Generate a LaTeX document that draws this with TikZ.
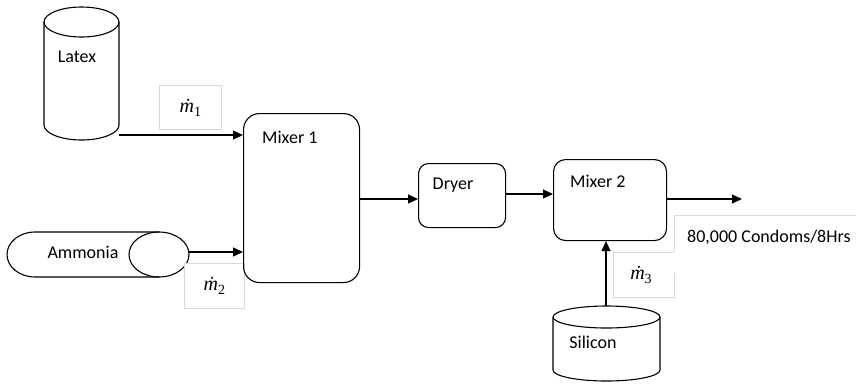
\documentclass[tikz,border=0pt]{standalone}
\usepackage{fontspec}
\setmainfont{Carlito}
\newfontfamily\mfont{Liberation Serif}
\newcommand{\mdotlbl}[1]{{\mfont\fontsize{20}{22}\selectfont\itshape ṁ}\raisebox{-4pt}{\mfont\fontsize{14}{16}\selectfont #1}}
\usetikzlibrary{arrows.meta}
\begin{document}
\begin{tikzpicture}[x=1pt,y=-1pt,
  every node/.style={font=\fontsize{18}{22}\selectfont, inner sep=0pt},
  line/.style={line width=1.1pt},
  arr/.style={line width=1.1pt,-{Triangle[length=10pt,width=9pt]}},
  proc/.style={draw,line width=1.1pt,rounded corners=#1,anchor=north west},
  lbl/.style={draw=black!15,line width=0.8pt,fill=white,anchor=north west},
  ghost/.style={draw=none,anchor=north west}]
\useasboundingbox (0,0) rectangle (856,384);

% Latex cylinder
\node[ghost,minimum width=75pt,minimum height=133pt] (latex) at (44,7) {};
\draw[line] (44,22) -- (44,125) arc[start angle=180,end angle=0,x radius=37.5,y radius=15] -- (119,22);
\draw[line] (81.5,22) ellipse[x radius=37.5,y radius=15];
\node (latexT) at (77,57) {Latex};

% m1 label
\node[lbl,minimum width=62pt,minimum height=44pt] (m1) at (159,85) {\mdotlbl{1}};

% Ammonia horizontal cylinder
\node[ghost,minimum width=182pt,minimum height=45pt] (amm) at (7,232) {};
\draw[line] (159,232) -- (35,232) arc[start angle=270,end angle=90,x radius=28,y radius=22.5] -- (159,277);
\draw[line] (159,254.5) ellipse[x radius=30,y radius=22.5];
\node (ammT) at (83,252) {Ammonia};

% m2 label
\node[lbl,minimum width=60pt,minimum height=45pt] (m2) at (184,263) {\mdotlbl{2}};

% Mixer 1
\node[proc=16pt,minimum width=116pt,minimum height=169pt] (mix1) at (243,113) {};
\node[anchor=west] (mix1T) at (262,137) {Mixer 1};

% Dryer
\node[proc=10pt,minimum width=87pt,minimum height=64pt] (dryer) at (418,163) {};
\node (dryerT) at (453,185) {Dryer};

% Mixer 2
\node[proc=12pt,minimum width=113pt,minimum height=81pt] (mix2) at (553,159) {};
\node[anchor=west] (mix2T) at (570,181) {Mixer 2};

% output label box
\draw[draw=black!15,line width=0.8pt] (856,215) -- (674,215) -- (674,252);
\node[anchor=west] (outT) at (687,237) {80,000 Condoms/8Hrs};
\coordinate (outEnd) at (742,199);

% m3 label
\draw[draw=black!15,line width=0.8pt] (674,252) -- (613,252) -- (613,297) -- (674,297) -- (674,273);
\node[ghost,minimum width=61pt,minimum height=45pt] (m3) at (613,252) {};
\node (m3T) at (641,275) {\mdotlbl{3}};

% Silicon cylinder
\node[ghost,minimum width=107pt,minimum height=75pt] (sil) at (553,306) {};
\draw[line] (553,317) -- (553,370) arc[start angle=180,end angle=0,x radius=53.5,y radius=11] -- (660,317);
\draw[line] (606.5,317) ellipse[x radius=53.5,y radius=11];
\node (silT) at (593,342) {Silicon};

% connectors
\draw[arr] (latex.east |- 0,135) -- (mix1.west |- 0,135);
\draw[arr] (amm.east |- 0,252) -- (mix1.west |- 0,252);
\draw[arr] (mix1.east |- 0,199) -- (dryer.west |- 0,199);
\draw[arr] (dryer.east |- 0,194) -- (mix2.west |- 0,194);
\draw[arr] (mix2.east |- 0,199) -- (outEnd);
\draw[arr] (sil.north -| 606,0) -- (mix2.south -| 606,0);
\end{tikzpicture}
\end{document}
